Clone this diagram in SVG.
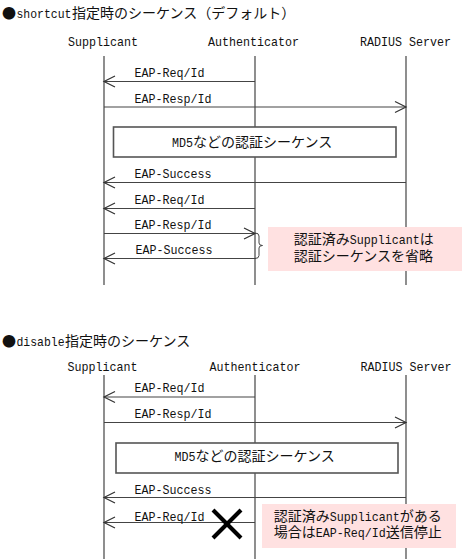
<svg xmlns="http://www.w3.org/2000/svg" width="464" height="559" viewBox="0 0 464 559">
<style>
.t{font-family:"Liberation Mono",monospace;font-size:13px;fill:#111}
.j{font-family:"Noto Sans CJK JP",sans-serif;font-size:14px;fill:#111}
.life{stroke:#444;stroke-width:1.2;fill:none}
.msg{stroke:#444;stroke-width:1.2;fill:none;marker-end:url(#arr)}
.box{fill:#fff;stroke:#555;stroke-width:1.6}
.note{fill:#FFE1E1;stroke:none}
</style>
<defs>
<marker id="arr" markerUnits="userSpaceOnUse" markerWidth="14" markerHeight="14" viewBox="0 0 14 14" refX="12" refY="7" orient="auto">
<path d="M1,1.5 L12,7 L1,12.5" fill="none" stroke="#333" stroke-width="1.2"/>
</marker>
</defs>
<rect width="464" height="559" fill="#fff"/>

<!-- top section -->
<g id="title1">
<text class="j" x="2" y="18">●</text>
<text class="t" x="16.5" y="18" textLength="55" lengthAdjust="spacingAndGlyphs">shortcut</text>
<text class="j" x="72" y="18">指定時のシーケンス（デフォルト）</text>
</g>

<g id="supplicant1">
<text class="t" x="68" y="46" textLength="70" lengthAdjust="spacingAndGlyphs">Supplicant</text>
<line class="life" x1="104" y1="56" x2="104" y2="285"/>
</g>
<g id="authenticator1">
<text class="t" x="208" y="46" textLength="91" lengthAdjust="spacingAndGlyphs">Authenticator</text>
<line class="life" x1="255" y1="56" x2="255" y2="285"/>
</g>
<g id="radius1">
<text class="t" x="360" y="46" textLength="91" lengthAdjust="spacingAndGlyphs">RADIUS Server</text>
<line class="life" x1="406" y1="56" x2="406" y2="285"/>
</g>

<g id="connectors1">
<line class="msg" x1="255" y1="81.5" x2="104" y2="81.5"/>
<text class="t" x="134.5" y="77" textLength="70" lengthAdjust="spacingAndGlyphs">EAP-Req/Id</text>
<line class="msg" x1="104" y1="107" x2="406" y2="107"/>
<text class="t" x="134.5" y="103" textLength="77" lengthAdjust="spacingAndGlyphs">EAP-Resp/Id</text>
<line class="msg" x1="406" y1="182.5" x2="104" y2="182.5"/>
<text class="t" x="134.5" y="178" textLength="77" lengthAdjust="spacingAndGlyphs">EAP-Success</text>
<line class="msg" x1="255" y1="208.5" x2="104" y2="208.5"/>
<text class="t" x="134.5" y="203.5" textLength="70" lengthAdjust="spacingAndGlyphs">EAP-Req/Id</text>
<line class="msg" x1="104" y1="233.5" x2="255" y2="233.5"/>
<text class="t" x="134.5" y="228.5" textLength="77" lengthAdjust="spacingAndGlyphs">EAP-Resp/Id</text>
<line class="msg" x1="256" y1="258.5" x2="104" y2="258.5"/>
<text class="t" x="135.5" y="254" textLength="77" lengthAdjust="spacingAndGlyphs">EAP-Success</text>
<path d="M255,233 Q259,233 259,236 L259,243 Q259,245.5 262.5,245.5 Q259,245.5 259,248 L259,255.5 Q259,258.5 255,258.5" fill="none" stroke="#444" stroke-width="1"/>
</g>

<g id="md5box1">
<rect class="box" x="113.5" y="127" width="282.5" height="30"/>
<text class="t" x="172" y="147" textLength="21" lengthAdjust="spacingAndGlyphs">MD5</text>
<text class="j" x="193" y="147">などの認証シーケンス</text>
</g>

<g id="note1">
<rect class="note" x="268" y="227" width="194" height="44"/>
<text class="j" x="293.7" y="244">認証済み</text>
<text class="t" x="349.7" y="244" textLength="70" lengthAdjust="spacingAndGlyphs">Supplicant</text>
<text class="j" x="419.7" y="244">は</text>
<text class="j" x="293.7" y="260.5">認証シーケンスを省略</text>
</g>

<!-- bottom section -->
<g id="title2">
<text class="j" x="2" y="346">●</text>
<text class="t" x="16.5" y="346" textLength="48" lengthAdjust="spacingAndGlyphs">disable</text>
<text class="j" x="65" y="346">指定時のシーケンス</text>
</g>

<g id="supplicant2">
<text class="t" x="67.5" y="370.5" textLength="70" lengthAdjust="spacingAndGlyphs">Supplicant</text>
<line class="life" x1="104" y1="375" x2="104" y2="559"/>
</g>
<g id="authenticator2">
<text class="t" x="209.5" y="370.5" textLength="91" lengthAdjust="spacingAndGlyphs">Authenticator</text>
<line class="life" x1="255" y1="375" x2="255" y2="559"/>
</g>
<g id="radius2">
<text class="t" x="360.5" y="370.5" textLength="91" lengthAdjust="spacingAndGlyphs">RADIUS Server</text>
<line class="life" x1="406" y1="375" x2="406" y2="559"/>
</g>

<g id="connectors2">
<line class="msg" x1="255" y1="397" x2="104" y2="397"/>
<text class="t" x="134.5" y="392" textLength="70" lengthAdjust="spacingAndGlyphs">EAP-Req/Id</text>
<line class="msg" x1="104" y1="422.5" x2="406" y2="422.5"/>
<text class="t" x="134.5" y="418" textLength="77" lengthAdjust="spacingAndGlyphs">EAP-Resp/Id</text>
<line class="msg" x1="406" y1="497.5" x2="104" y2="497.5"/>
<text class="t" x="134.5" y="493.5" textLength="77" lengthAdjust="spacingAndGlyphs">EAP-Success</text>
<line class="msg" x1="255" y1="522.5" x2="104" y2="522.5"/>
<text class="t" x="134.5" y="520.5" textLength="70" lengthAdjust="spacingAndGlyphs">EAP-Req/Id</text>
</g>

<g id="xmark">
<line x1="213" y1="510" x2="241" y2="538" stroke="#000" stroke-width="4"/>
<line x1="241" y1="510" x2="213" y2="538" stroke="#000" stroke-width="4"/>
</g>

<g id="md5box2">
<rect class="box" x="116" y="443" width="282" height="30"/>
<text class="t" x="174.5" y="461" textLength="21" lengthAdjust="spacingAndGlyphs">MD5</text>
<text class="j" x="195.5" y="461">などの認証シーケンス</text>
</g>

<g id="note2">
<rect class="note" x="262" y="504" width="194" height="44"/>
<text class="j" x="273.7" y="521">認証済み</text>
<text class="t" x="329.7" y="521" textLength="70" lengthAdjust="spacingAndGlyphs">Supplicant</text>
<text class="j" x="399.7" y="521">がある</text>
<text class="j" x="273.7" y="537">場合は</text>
<text class="t" x="315.7" y="537" textLength="70" lengthAdjust="spacingAndGlyphs">EAP-Req/Id</text>
<text class="j" x="385.7" y="537">送信停止</text>
</g>
</svg>
